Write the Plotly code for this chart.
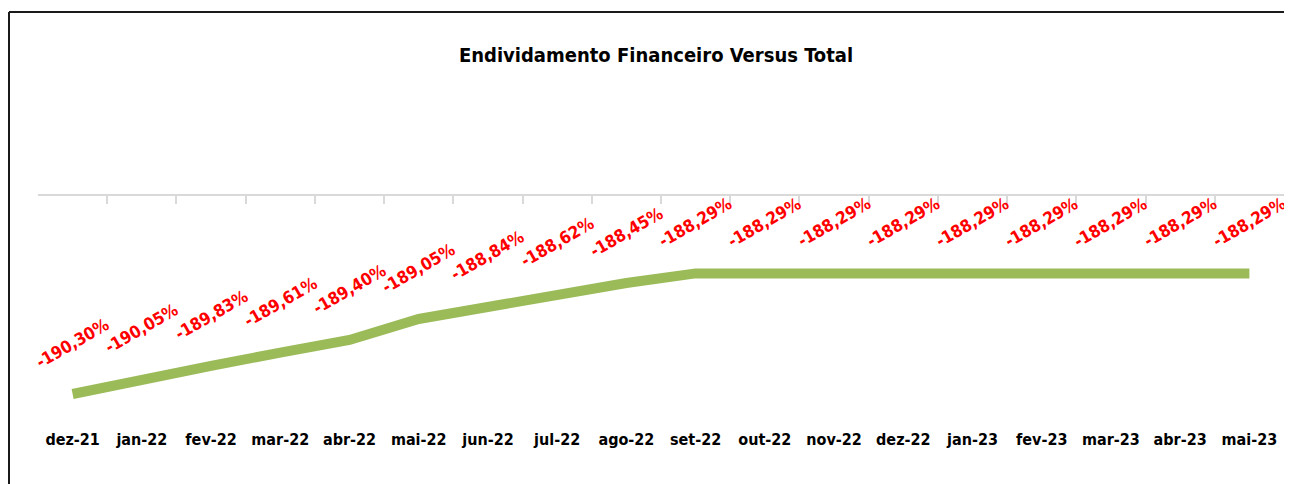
import plotly.graph_objects as go

categories = ["dez-21", "jan-22", "fev-22", "mar-22", "abr-22", "mai-22", "jun-22", "jul-22", "ago-22",
              "set-22", "out-22", "nov-22", "dez-22", "jan-23", "fev-23", "mar-23", "abr-23", "mai-23"]
values = [-190.30, -190.05, -189.83, -189.61, -189.40, -189.05, -188.84, -188.62, -188.45,
          -188.29, -188.29, -188.29, -188.29, -188.29, -188.29, -188.29, -188.29, -188.29]
title_text = "Endividamento Financeiro Versus Total"

FONT = "Liberation Sans Narrow, DejaVu Sans Condensed, Roboto, sans-serif"
# page body has an 8px margin; figure origin sits at (8, 8) in the screenshot
W, H = 1284, 476
L, R, T, B = 30, 8, 188, 56
pw, ph = W - L - R, H - T - B

fig = go.Figure()
fig.add_trace(go.Scatter(x=categories, y=values, mode="lines",
                         line=dict(color="#9BBB59", width=10),
                         hoverinfo="skip", showlegend=False, xaxis="x", yaxis="y"))
fig.add_trace(go.Scatter(x=categories, y=values, mode="lines", opacity=0,
                         hoverinfo="skip", showlegend=False, xaxis="x2", yaxis="y"))

def fmt(v):
    return f"{v:.2f}%".replace(".", ",")

for c, v in zip(categories, values):
    fig.add_annotation(x=c, y=v, xref="x", yref="y", text=fmt(v), showarrow=False,
                       textangle=-30, yshift=51, xanchor="center", yanchor="middle",
                       font=dict(family=FONT, size=17, color="#FF0000", weight="bold"))

border_top = (H - B - 4) / ph
border_left = (1 - L) / pw
fig.add_shape(type="line", xref="paper", yref="paper",
              x0=border_left, x1=1.2, y0=border_top, y1=border_top,
              line=dict(color="#1a1a1a", width=2), layer="above")
fig.add_shape(type="line", xref="paper", yref="paper",
              x0=border_left, x1=border_left, y0=-1.0, y1=border_top,
              line=dict(color="#1a1a1a", width=2), layer="above")

fig.update_layout(
    width=W, height=H,
    margin=dict(l=L, r=R, t=T, b=B),
    paper_bgcolor="white", plot_bgcolor="white",
    title=dict(text=title_text, x=648 / W, xanchor="center", y=1 - 47 / H, yanchor="middle",
               font=dict(family=FONT, size=20, color="#000000", weight="bold")),
    xaxis=dict(type="category", categoryorder="array", categoryarray=categories,
               range=[-0.5, len(categories) - 0.5], showline=False, showgrid=False, zeroline=False,
               ticks="", side="bottom",
               tickfont=dict(family=FONT, size=16, color="#000000", weight="bold")),
    xaxis2=dict(type="category", categoryorder="array", categoryarray=categories,
                range=[-0.5, len(categories) - 0.5], overlaying="x", side="top",
                showline=True, linecolor="#d9d9d9", linewidth=2,
                ticks="inside", ticklen=8, tickcolor="#d9d9d9", tickwidth=1.5,
                tickson="boundaries", showticklabels=False, showgrid=False, zeroline=False),
    yaxis=dict(range=[-190.867, -187], showticklabels=False, showgrid=False, zeroline=False,
               showline=False, ticks=""),
)

fig.write_html("out.html")
